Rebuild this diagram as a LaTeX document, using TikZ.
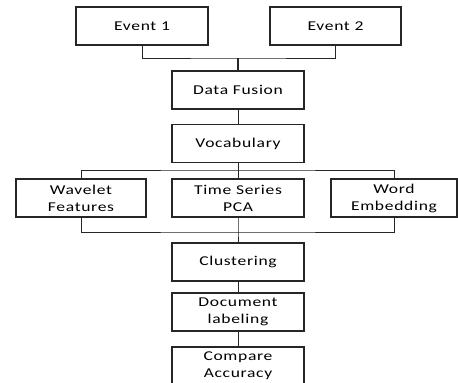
\documentclass[tikz,border=0pt]{standalone}
\usepackage{fontspec}
\setmainfont[FakeStretch=1.3,LetterSpace=5]{Carlito}

\begin{document}
\begin{tikzpicture}[x=1pt,y=-1pt]
\tikzstyle{every node}=[font=\fontsize{13.5}{17}\selectfont,align=center,inner sep=1pt]
\tikzstyle{stage}=[draw=black!85,line width=1.2pt,minimum width=132pt,minimum height=38pt]
\tikzstyle{link}=[draw=black!85,line width=0.9pt]
\path[use as bounding box,clip] (0,0) rectangle (458,383);
\fill[white] (0,0) rectangle (458,383);

\node[stage] (ev1) at (142,26) {Event 1};
\node[stage,minimum width=131pt] (ev2) at (335.5,26) {Event 2};
\node[stage] (fusion) at (238,90) {Data Fusion};
\node[stage] (vocab) at (238,143.5) {Vocabulary};
\node[stage,minimum width=130pt] (wavelet) at (81,198) {Wavelet\\Features};
\node[stage] (pca) at (238,198) {Time Series\\PCA};
\node[stage,minimum width=126pt] (word) at (394,198) {Word\\Embedding};
\node[stage] (cluster) at (238,262) {Clustering};
\node[stage] (doclab) at (238,312) {Document\\labeling};
\node[stage] (compare) at (238,366) {Compare\\Accuracy};

% junctions
\coordinate (j1) at (238,58);
\coordinate (j2) at (238,170);
\coordinate (j3) at (238,232);

\draw[link] (ev1.south) |- (j1) -| (ev2.south);
\draw[link,line width=1.5pt] (j1) -- (fusion);
\draw[link] (fusion) -- (vocab);
\draw[link] (vocab) -- (j2);
\draw[link] (wavelet.north) |- (j2) -| (word.north);
\draw[link] (j2) -- (pca);
\draw[link] (wavelet.south) |- (j3) -| (word.south);
\draw[link] (pca) -- (j3) -- (cluster);
\draw[link] (cluster) -- (doclab);
\draw[link] (doclab) -- (compare);
\end{tikzpicture}
\end{document}
